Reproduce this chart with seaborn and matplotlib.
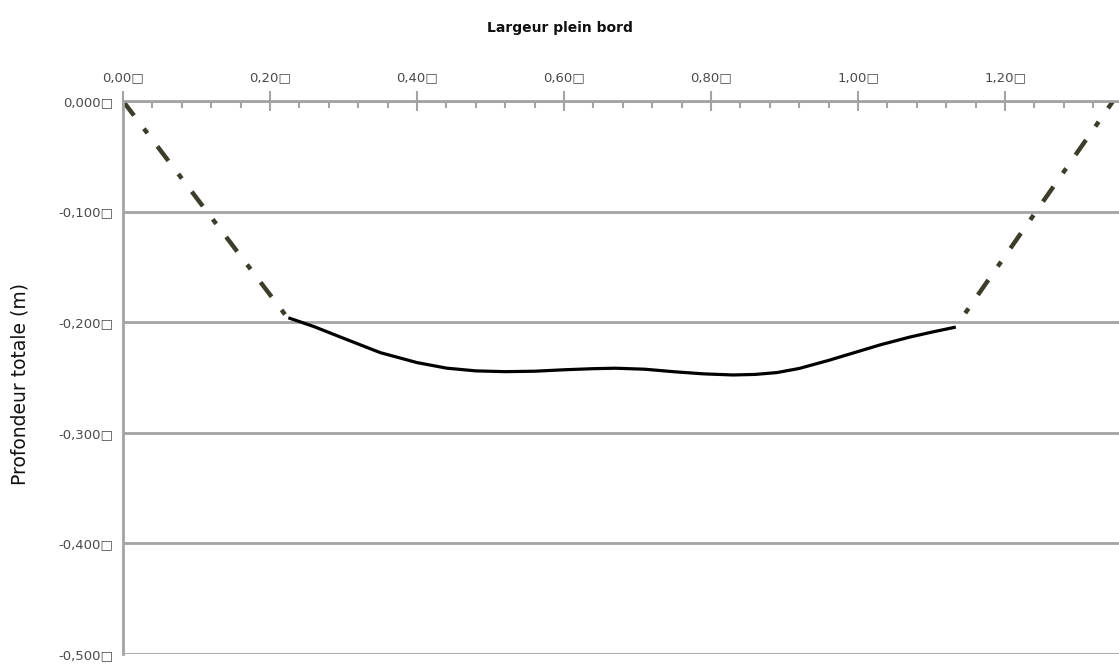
"""
Profil en travers : largeur plein bord vs profondeur totale
"""
import matplotlib
matplotlib.use("Agg")
import matplotlib.pyplot as plt
from matplotlib.ticker import MultipleLocator, FuncFormatter
import seaborn as sns

# berge gauche (pointillé), fond du lit (trait plein), berge droite (pointillé)
bank_left_x = [0.0, 0.225]
bank_left_y = [0.0, -0.197]

bed_x = [0.225, 0.26, 0.30, 0.35, 0.40, 0.44, 0.48, 0.52, 0.56, 0.60,
         0.64, 0.67, 0.71, 0.75, 0.79, 0.83, 0.86, 0.89, 0.92, 0.96,
         1.00, 1.03, 1.07, 1.10, 1.133]
bed_y = [-0.196, -0.204, -0.2145, -0.2275, -0.2365, -0.2415, -0.2440,
         -0.2447, -0.2443, -0.2430, -0.2420, -0.2416, -0.2425, -0.2448,
         -0.2467, -0.2477, -0.2472, -0.2455, -0.2418, -0.2345, -0.2265,
         -0.2205, -0.2135, -0.2090, -0.2044]

bank_right_x = [1.133, 1.347]
bank_right_y = [-0.204, 0.0]

x_ticks = [0.0, 0.2, 0.4, 0.6, 0.8, 1.0, 1.2]
y_ticks = [0.0, -0.1, -0.2, -0.3, -0.4, -0.5]

x_title = "Largeur plein bord"
y_title = "Profondeur totale (m)"
unit_glyph = "\u25a1"

grey = "#a3a3a3"
bank_color = "#3e3d2b"

sns.set_style("white")
plt.rcParams["font.family"] = ["DejaVu Sans"]

fig = plt.figure(figsize=(11.19, 6.69), dpi=100)
ax = fig.add_axes([0.1099, 0.0224, 0.8901, 0.8266])

# tiret - point, longueurs en multiples de l'épaisseur
pattern = (4.1, 3.7, 1.3, 3.7)
sns.lineplot(x=bank_left_x, y=bank_left_y, ax=ax, color=bank_color,
             linewidth=3.2, linestyle=(0, pattern))
sns.lineplot(x=bank_right_x, y=bank_right_y, ax=ax, color=bank_color,
             linewidth=3.2, linestyle=(4.1, pattern))
sns.lineplot(x=bed_x, y=bed_y, ax=ax, color="black", linewidth=2.3)
for line in ax.lines:
    line.set_dash_capstyle("butt")
    line.set_solid_capstyle("butt")
    line.set_solid_joinstyle("round")

ax.set_xlim(0, 1.355)
ax.set_ylim(-0.5, 0.0)

ax.xaxis.tick_top()
ax.set_xticks(x_ticks)
ax.xaxis.set_minor_locator(MultipleLocator(0.04))
ax.set_yticks(y_ticks)

ax.xaxis.set_major_formatter(FuncFormatter(
    lambda v, p: f"{v:.2f}".replace(".", ",") + unit_glyph))
ax.yaxis.set_major_formatter(FuncFormatter(
    lambda v, p: f"{v:.3f}".replace(".", ",").replace("-0,000", "0,000") + unit_glyph))

ax.tick_params(axis="x", which="major", direction="inout", length=14, width=1.5,
               color=grey, labelsize=9.5, labelcolor="#4a4a4a", pad=5)
ax.tick_params(axis="x", which="minor", direction="in", length=5, width=1.5,
               color=grey)
ax.tick_params(axis="y", which="major", direction="out", length=6, width=1.5,
               color=grey, labelsize=9.5, labelcolor="#4a4a4a", pad=1)

ax.grid(axis="y", color=grey, linewidth=2)
ax.set_axisbelow(True)
for side in ["right", "bottom"]:
    ax.spines[side].set_visible(False)
for side in ["left", "top"]:
    ax.spines[side].set_color(grey)
    ax.spines[side].set_linewidth(2)

ax.set_xlabel("")
ax.set_ylabel("")
fig.text(0.5, 1 - 28 / 669, x_title, ha="center", va="center",
         fontsize=10, fontweight="bold", color="#111111")
fig.text(20 / 1119, 1 - 384 / 669, y_title, ha="center", va="center",
         rotation=90, fontsize=13.5, color="#111111")

fig.savefig("out.png", dpi=100)
